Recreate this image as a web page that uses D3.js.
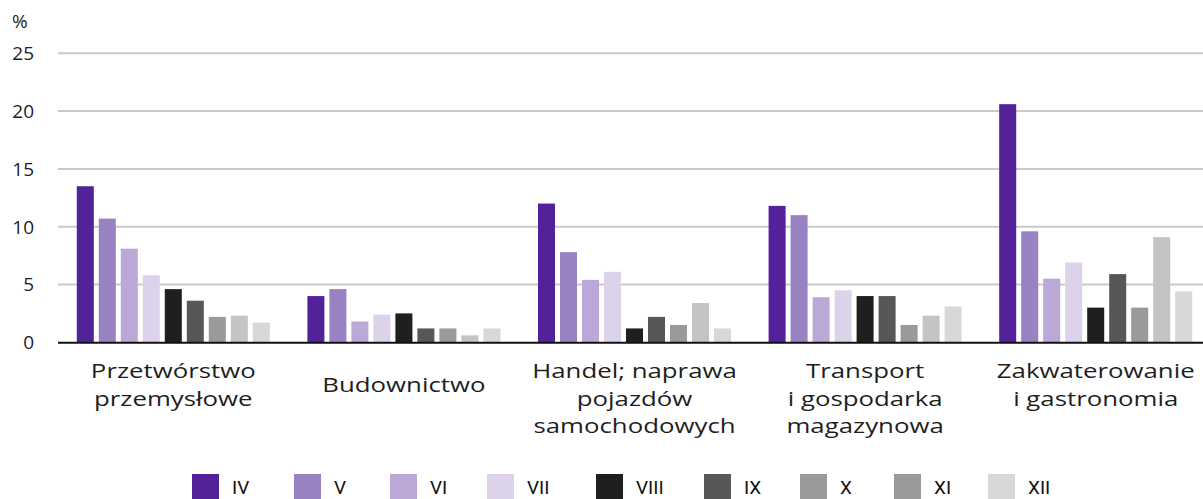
<!DOCTYPE html>
<html>
<head>
<meta charset="utf-8">
<script src="https://cdn.jsdelivr.net/npm/d3@7"></script>
<style>
	body { margin: 0; background: #fff; }
	svg { display: block; }
	text { font-family: "Open Sans", sans-serif; fill: #1e1e1e; }
	.tick_label { font-size: 19px; }
	.cat_label { font-size: 20px; }
	.legend_label { font-family: Roboto, sans-serif; font-size: 19px; fill: #111; }
</style>
</head>
<body>
<svg id="chart"></svg>
<script>

const width = 1203
const height = 499

// data
const categories = ["Przetwórstwo przemysłowe", "Budownictwo", "Handel; naprawa pojazdów samochodowych",
					"Transport i gospodarka magazynowa", "Zakwaterowanie i gastronomia"]
const category_lines = [["Przetwórstwo", "przemysłowe"], ["Budownictwo"], ["Handel; naprawa", "pojazdów", "samochodowych"],
						["Transport", "i gospodarka", "magazynowa"], ["Zakwaterowanie", "i gastronomia"]]
const months = ["IV", "V", "VI", "VII", "VIII", "IX", "X", "XI", "XII"]

const values_przetworstwo = [13.5, 10.7, 8.1, 5.8, 4.6, 3.6, 2.2, 2.3, 1.7]
const values_budownictwo = [4.0, 4.6, 1.8, 2.4, 2.5, 1.2, 1.2, 0.6, 1.2]
const values_handel = [12.0, 7.8, 5.4, 6.1, 1.2, 2.2, 1.5, 3.4, 1.2]
const values_transport = [11.8, 11.0, 3.9, 4.5, 4.0, 4.0, 1.5, 2.3, 3.1]
const values_zakwaterowanie = [20.6, 9.6, 5.5, 6.9, 3.0, 5.9, 3.0, 9.1, 4.4]

const y_ticks = [0, 5, 10, 15, 20, 25]

const bar_colors = ["#53229a", "#9882c1", "#bba8d6", "#dcd3ea", "#1f1f1f", "#575757", "#9a9a9a", "#c4c4c4", "#d8d8d8"]
// legend swatch for XI is drawn in the darker grey in the original
const legend_colors = ["#53229a", "#9882c1", "#bba8d6", "#dcd3ea", "#1f1f1f", "#575757", "#9a9a9a", "#9a9a9a", "#d8d8d8"]

const all_values = [values_przetworstwo, values_budownictwo, values_handel, values_transport, values_zakwaterowanie]

const svg = d3.select("#chart").attr("width", width).attr("height", height)

const plot_left = 58
const plot_right = width

let x0 = d3.scaleBand()
	.domain(categories)
	.range([plot_left, plot_left + 5 * 230.6])
	.paddingInner(0.163)
	.paddingOuter(0.0815)

let x1 = d3.scaleBand()
	.domain(months)
	.range([0, x0.bandwidth()])
	.paddingInner(0.227)
	.paddingOuter(0)

let y = d3.scaleLinear().domain([0, 25]).range([342.3, 53.3])

// gridlines
svg.append("g").classed("grid", true)
	.selectAll("line")
	.data(y_ticks.filter(d => d > 0)).enter().append("line")
	.attr("x1", plot_left)
	.attr("x2", plot_right)
	.attr("y1", d => y(d))
	.attr("y2", d => y(d))
	.attr("stroke", "#c9c9c9")
	.attr("stroke-width", 2)

// y tick labels
svg.append("g")
	.selectAll("text")
	.data(y_ticks).enter().append("text")
	.classed("tick_label", true)
	.attr("x", 34)
	.attr("y", d => y(d))
	.attr("dy", "0.36em")
	.attr("text-anchor", "end")
	.text(d => d)

svg.append("text")
	.classed("tick_label", true)
	.attr("x", 12)
	.attr("y", 28)
	.text("%")

// bars
let groups = svg.append("g").classed("bars", true)
	.selectAll("g")
	.data(categories).enter().append("g")
	.attr("transform", d => "translate(" + x0(d) + ",0)")

groups.selectAll("rect")
	.data((d, i) => all_values[i].map((v, j) => ({ month: months[j], value: v, color: bar_colors[j] })))
	.enter().append("rect")
	.attr("x", d => x1(d.month))
	.attr("width", x1.bandwidth())
	.attr("y", d => y(d.value))
	.attr("height", d => y(0) - y(d.value))
	.attr("fill", d => d.color)

// baseline
svg.append("line")
	.attr("x1", plot_left)
	.attr("x2", plot_right)
	.attr("y1", y(0) + 0.5)
	.attr("y2", y(0) + 0.5)
	.attr("stroke", "#111")
	.attr("stroke-width", 2)

// category labels (text in the original is wider than Open Sans, hence the x-scale)
const line_gap = 27.4
let cat_labels = svg.append("g").classed("cat_labels", true)
	.selectAll("g")
	.data(categories).enter().append("g")
	.attr("transform", (d, i) => {
		let cx = x0(d) + x0.bandwidth() / 2
		let first_y = category_lines[i].length == 1 ? 378.3 + line_gap / 2 : 378.3
		return "translate(" + cx + "," + first_y + ") scale(1.29,1)"
	})

cat_labels.selectAll("text")
	.data((d, i) => category_lines[i])
	.enter().append("text")
	.classed("cat_label", true)
	.attr("x", 0)
	.attr("y", (d, i) => i * line_gap)
	.attr("text-anchor", "middle")
	.text(d => d)

// legend
const legend_x = [192, 294, 390, 487, 596, 704, 800, 894, 988]
let legend = svg.append("g").classed("legend", true)
	.selectAll("g")
	.data(months).enter().append("g")
	.attr("transform", (d, i) => "translate(" + legend_x[i] + ",0)")

legend.append("rect")
	.attr("x", 0)
	.attr("y", 474)
	.attr("width", 27)
	.attr("height", 30)
	.attr("fill", (d, i) => legend_colors[i])

legend.append("text")
	.classed("legend_label", true)
	.attr("x", 40)
	.attr("y", 494)
	.text(d => d)

</script>
</body>
</html>
